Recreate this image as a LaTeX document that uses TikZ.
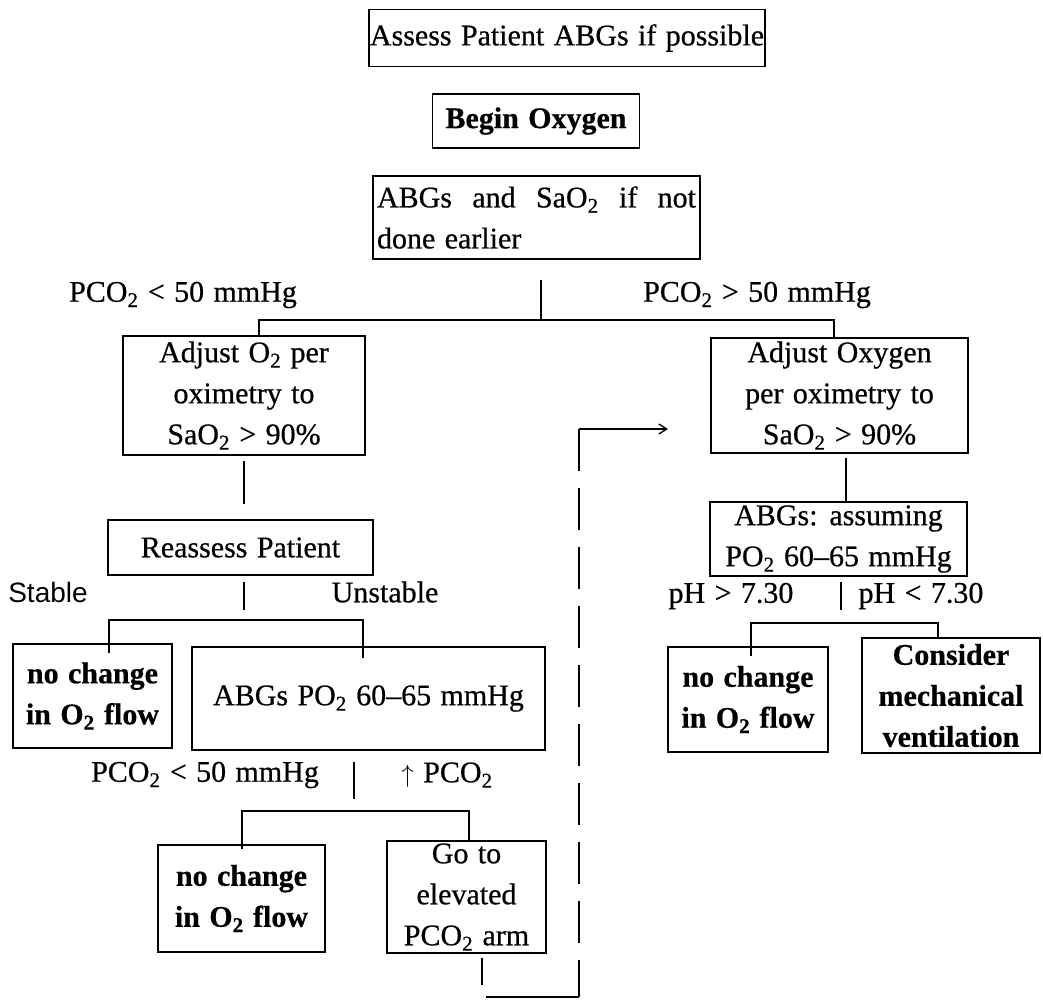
\documentclass[tikz,border=0pt]{standalone}
\usepackage{fontspec}
\setmainfont{Liberation Serif}[WordSpace=1.25, FakeBold=0.6]
\setsansfont{Liberation Sans}
\usetikzlibrary{arrows.meta}
\newcommand{\two}{\textsubscript{2}}
\begin{document}
\begin{tikzpicture}[x=1pt,y=-1pt,
  every node/.style={font=\fontsize{30}{41}\selectfont, inner sep=0pt},
  box/.style={draw, line width=1.6pt, align=center},
  lbl/.style={anchor=center},
  ln/.style={line width=1.7pt},
  dashln/.style={line width=1.7pt, dash pattern=on 42pt off 17pt},
  bold/.style={font=\fontsize{30}{41}\selectfont\bfseries}]
\useasboundingbox (0,0) rectangle (1043,1000);
% boxes
\node[box, minimum width=396pt, minimum height=57pt] (A) at (567,38) {Assess Patient ABGs if possible};
\node[box, bold, minimum width=207pt, minimum height=54pt] (B) at (536,121) {Begin Oxygen};
\node[box, align=justify, text width=319pt, inner xsep=4pt, minimum height=83pt] (C) at (536.5,217.5) {ABGs and SaO\two{} if not\linebreak done earlier};
\node[box, minimum width=242pt, minimum height=119pt] (D) at (244,395.5) {Adjust O\two{} per\\ oximetry to\\ SaO\two{} > 90\%};
\node[box, minimum width=257pt, minimum height=115pt] (E) at (839.5,395.5) {Adjust Oxygen\\ per oximetry to\\ SaO\two{} > 90\%};
\node[box, minimum width=265pt, minimum height=55pt] (F) at (240.5,547.5) {Reassess Patient};
\node[box, minimum width=257pt, minimum height=74pt] (G) at (838.5,539) {ABGs: assuming\\ PO\two{} 60--65 mmHg};
\node[box, bold, minimum width=159pt, minimum height=104pt] (H) at (92.5,696) {no change\\ in O\two{} flow};
\node[box, minimum width=353pt, minimum height=103pt] (I) at (368.5,698.5) {ABGs PO\two{} 60--65 mmHg};
\node[box, bold, minimum width=160pt, minimum height=105pt] (L) at (748,699.5) {no change\\ in O\two{} flow};
\node[box, bold, minimum width=178pt, minimum height=115pt] (M) at (951,695.5) {Consider\\ mechanical\\ ventilation};
\node[box, bold, minimum width=167pt, minimum height=107pt] (J) at (241.5,898.5) {no change\\ in O\two{} flow};
\node[box, minimum width=159pt, minimum height=112pt] (K) at (466.5,897) {Go to\\ elevated\\ PCO\two{} arm};
% labels
\node[lbl] (l1) at (183,295) {PCO\two{} < 50 mmHg};
\node[lbl] (l2) at (757,295) {PCO\two{} > 50 mmHg};
\node[lbl, font=\fontsize{28}{34}\selectfont\sffamily] (st) at (48,592) {Stable};
\node[lbl] (un) at (385,592) {Unstable};
\node[lbl] (p1) at (731,596) {pH > 7.30};
\node[lbl] (p2) at (921,596) {pH < 7.30};
\node[lbl] (l3) at (205,775) {PCO\two{} < 50 mmHg};
\node[lbl] (l4) at (447,775) {$\uparrow$ PCO\two{}};
% junction coordinates
\coordinate (t1) at (541,280); \coordinate (t2) at (541,320);
\coordinate (dl) at (259,320); \coordinate (dr) at (834,320);
\coordinate (df1) at (244,461); \coordinate (df2) at (244,504);
\coordinate (eg1) at (846,458); \coordinate (eg2) at (846,501);
\coordinate (s1) at (244,582); \coordinate (s2) at (244,610);
\coordinate (b1l) at (109,620); \coordinate (b1r) at (363,620);
\coordinate (q1) at (354,762); \coordinate (q2) at (354,799);
\coordinate (b2l) at (242,811); \coordinate (b2r) at (469,811);
\coordinate (r1) at (841,582); \coordinate (r2) at (841,610);
\coordinate (b3l) at (751,623); \coordinate (b3r) at (938,623);
\coordinate (k1) at (482,958); \coordinate (k2) at (482,985);
\coordinate (k3) at (486,997); \coordinate (k4) at (579,997);
\coordinate (k5) at (579,429); \coordinate (k6) at (668,429);
% connectors
\draw[ln] (t1) -- (t2);
\draw[ln] (D.north -| dl) -- (dl) -- (dr) -- (E.north -| dr);
\draw[ln] (df1) -- (df2);
\draw[ln] (eg1) -- (eg2);
\draw[ln] (s1) -- (s2);
\draw[ln] ([yshift=-10pt]H.north -| b1l) -- (b1l) -- (b1r) -- ([yshift=-12pt]I.north -| b1r);
\draw[ln] (q1) -- (q2);
\draw[ln] ([yshift=-5pt]J.north -| b2l) -- (b2l) -- (b2r) -- (K.north -| b2r);
\draw[ln] (r1) -- (r2);
\draw[ln] ([yshift=-10pt]L.north -| b3l) -- (b3l) -- (b3r) -- (M.north -| b3r);
\draw[ln] (k1) -- (k2);
\draw[ln] (k3) -- (k4);
\draw[dashln] (k5) -- (k4);
\draw[line width=1.3pt, -{Straight Barb[length=8pt,width=10pt]}] (k5) -- (k6);
\end{tikzpicture}
\end{document}
